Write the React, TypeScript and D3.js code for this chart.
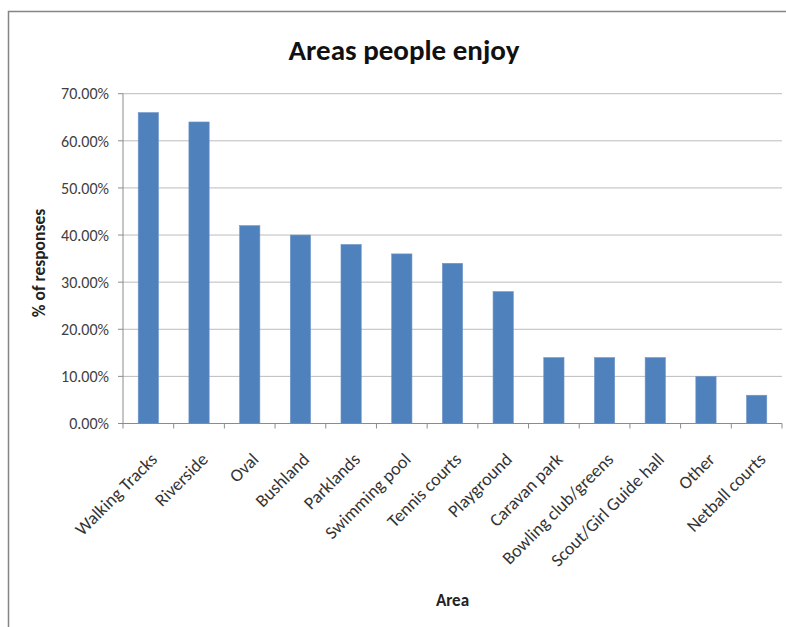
import React from "react";
import * as d3 from "d3";

const categories = [
  "Walking Tracks",
  "Riverside",
  "Oval",
  "Bushland",
  "Parklands",
  "Swimming pool",
  "Tennis courts",
  "Playground",
  "Caravan park",
  "Bowling club/greens",
  "Scout/Girl Guide hall",
  "Other",
  "Netball courts",
];
const values = [66, 64, 42, 40, 38, 36, 34, 28, 14, 14, 14, 10, 6];
const yTicks = [0, 10, 20, 30, 40, 50, 60, 70];
const title = "Areas people enjoy";
const yTitle = "% of responses";
const xTitle = "Area";

const W = 786;
const H = 627;
const left = 123;
const right = 782;
const top = 93.7;
const bottom = 423.5;
const FONT = "Carlito, Calibri, Lato, 'Open Sans', sans-serif";

export default function App() {
  const x = d3.scaleBand<string>().domain(categories).range([left, right]).paddingInner(0).paddingOuter(0);
  const y = d3.scaleLinear().domain([0, 70]).range([bottom, top]);
  const bw = x.bandwidth() / 2.5;
  const fmt = (v: number) => v.toFixed(2) + "%";

  return (
    <svg width={W} height={H} style={{ position: "absolute", left: 0, top: 0, background: "#fff" }} fontFamily={FONT}>
      <rect x={0} y={0} width={W} height={H} fill="#fff" />
      {/* frame */}
      <path d={`M8.5,${H + 2} V11.5 H${W + 2}`} fill="none" stroke="#858585" strokeWidth={1.5} />
      {/* title */}
      <text x={404} y={60} textAnchor="middle" fontSize={29} fontWeight="bold" fill="#111">
        {title}
      </text>
      {/* gridlines */}
      {yTicks.map((t) => (
        <line key={"g" + t} x1={left} x2={right} y1={y(t)} y2={y(t)} stroke={t === 0 ? "#8c8c8c" : "#bcbcbc"} strokeWidth={1} />
      ))}
      {/* y ticks and labels */}
      {yTicks.map((t) => (
        <g key={"t" + t}>
          <line x1={left - 5} x2={left} y1={y(t)} y2={y(t)} stroke="#8c8c8c" />
          <text x={left - 14} y={y(t)} dy="0.36em" textAnchor="end" fontSize={16} fill="#404040">
            {fmt(t)}
          </text>
        </g>
      ))}
      {/* y axis */}
      <line x1={left} x2={left} y1={top} y2={bottom} stroke="#8c8c8c" />
      {/* x ticks */}
      {categories.map((c) => (
        <line key={"xt" + c} x1={x(c)!} x2={x(c)!} y1={bottom} y2={bottom + 5} stroke="#8c8c8c" />
      ))}
      <line x1={right} x2={right} y1={bottom} y2={bottom + 5} stroke="#8c8c8c" />
      {/* bars */}
      {categories.map((c, i) => {
        const cx = x(c)! + x.bandwidth() / 2;
        return (
          <rect
            key={"b" + c}
            x={cx - bw / 2}
            y={y(values[i])}
            width={bw}
            height={y(0) - y(values[i])}
            fill="#4f81bd"
            stroke="#6f97c9"
            strokeWidth={0.6}
          />
        );
      })}
      {/* category labels */}
      {categories.map((c) => {
        const cx = x(c)! + x.bandwidth() / 2;
        return (
          <text
            key={"l" + c}
            transform={`translate(${cx + 10},${bottom + 37}) rotate(-45)`}
            textAnchor="end"
            fontSize={18}
            fill="#333"
          >
            {c}
          </text>
        );
      })}
      {/* axis titles */}
      <text transform={`translate(45,263) rotate(-90)`} textAnchor="middle" fontSize={17.5} fontWeight="bold" fill="#222">
        {yTitle}
      </text>
      <text x={(left + right) / 2} y={606} textAnchor="middle" fontSize={17} fontWeight="bold" fill="#222">
        {xTitle}
      </text>
    </svg>
  );
}
